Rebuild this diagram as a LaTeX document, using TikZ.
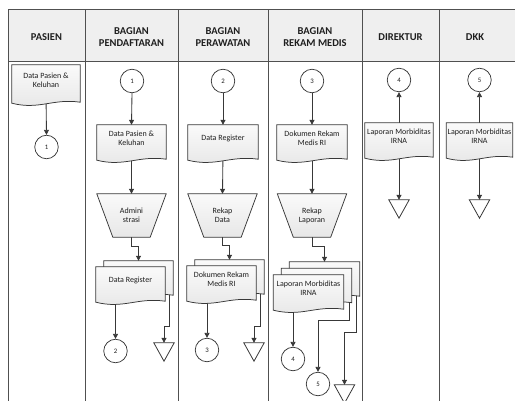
\documentclass[tikz,border=0pt]{standalone}
\usepackage{fontspec}
\setmainfont{Carlito}
\usetikzlibrary{calc,arrows.meta,shapes.geometric}
\pgfdeclarelayer{bg}
\pgfdeclarelayer{mid}
\pgfsetlayers{bg,mid,main}
\definecolor{linecol}{HTML}{383838}
\definecolor{gridcol}{HTML}{505050}
\definecolor{hdrfill}{HTML}{EFEFEF}
\definecolor{txtcol}{HTML}{1E1E1E}
\newcommand\hdrfont{\fontsize{10.5}{12}\selectfont\bfseries}
\newcommand\bodyfont{\fontsize{8}{9.2}\selectfont}
\newcommand\numfont{\fontsize{6.8}{7}\selectfont}
% document outline drawn around a text node; #2,#3 = shift (right, up)
\newcommand\docout[3]{%
  \path[shp] let \p1=(#1.north west), \p2=(#1.south east), \n1={\x2-\x1} in
    (\x1+#2,\y2-8pt+#3) -- (\x1+#2,\y1+#3) -- (\x2+#2,\y1+#3) -- (\x2+#2,\y2-7pt+#3)
    .. controls (\x2-0.4*\n1+#2,\y2-3pt+#3) and (\x1+0.4*\n1+#2,\y2-15pt+#3) .. (\x1+#2,\y2-8pt+#3) -- cycle;}
\newcommand\trapout[1]{%
  \path[shp] (#1.north west) -- (#1.north east) -- ($(#1.south east)+(-16,0)$) -- ($(#1.south west)+(16,0)$) -- cycle;}
\newcommand\triout[1]{%
  \path[trish] (#1.north west) -- (#1.north east) -- (#1.south) -- cycle;}
\tikzset{
  lane/.style={draw=gridcol, line width=0.9pt},
  hdr/.style={font=\hdrfont, align=center, text=txtcol},
  docn/.style={minimum width=#1, minimum height=27, inner sep=0pt, align=center, font=\bodyfont, text=txtcol},
  trapn/.style={minimum width=69, minimum height=43, inner sep=0pt, align=center, font=\bodyfont, text=txtcol},
  conn/.style={circle, draw=linecol, line width=0.75pt, fill=white, minimum size=23.5, inner sep=0pt, font=\numfont, text=txtcol},
  trin/.style={minimum width=20, minimum height=18, inner sep=0pt},
  shp/.style={draw=linecol, line width=0.75pt, top color=gray!4, bottom color=gray!19},
  trish/.style={draw=linecol, line width=0.8pt, fill=white},
  flow/.style={draw=linecol, line width=0.85pt, -{Triangle[length=5pt,width=5pt]}},
}
\begin{document}
\begin{tikzpicture}[x=1pt,y=-1pt]
\useasboundingbox (0,0) rectangle (515,400);

% ---------- header texts ----------
\node[hdr] (h1) at (46.5,37) {PASIEN};
\node[hdr] (h2) at (131.5,37) {BAGIAN\\PENDAFTARAN};
\node[hdr] (h3) at (223,37) {BAGIAN\\PERAWATAN};
\node[hdr] (h4) at (315,37) {BAGIAN\\REKAM MEDIS};
\node[hdr] (h5) at (400.5,37) {DIREKTUR};
\node[hdr] (h6) at (475,37) {DKK};

% ---------- PASIEN ----------
\node[docn=68, minimum height=30] (P1) at (46,80) {Data Pasien \&\\Keluhan};
\node[conn] (c1a) at (46.5,147) {1};

% ---------- PENDAFTARAN ----------
\node[conn] (c1b) at (132,81) {1};
\node[docn=69] (D1) at (131.5,138.5) {Data Pasien \&\\Keluhan};
\node[trapn] (T1) at (131.5,215.5) {Admini\\strasi};
\node[docn=69] (M1) at (130.5,280.5) {Data Register};
\node[conn] (c2a) at (115.5,351) {2};
\node[trin] (tri2a) at (164,352) {};

% ---------- PERAWATAN ----------
\node[conn] (c2b) at (223,81) {2};
\node[docn=70] (D2) at (223,138.5) {Data Register};
\node[trapn] (T2) at (222.5,215.5) {Rekap\\Data};
\node[docn=69] (M2) at (221.5,279.5) {Dokumen Rekam\\Medis RI};
\node[conn] (c3a) at (207,350) {3};
\node[trin] (tri2b) at (254,352) {};

% ---------- REKAM MEDIS ----------
\node[conn] (c3b) at (312,81) {3};
\node[docn=70] (D3) at (312,138.5) {Dokumen Rekam\\Medis RI};
\node[trapn] (T3) at (312,215.5) {Rekap\\Laporan};
\node[docn=70] (M3) at (308.5,288.5) {Laporan Morbiditas\\IRNA};
\node[conn] (c4a) at (293,359) {4};
\node[conn] (c5a) at (318,384) {5};
\node[trin] (tri3) at (344.5,394) {};

% ---------- DIREKTUR ----------
\node[conn] (c4b) at (399,80) {4};
\node[docn=68] (D4) at (399,136.5) {Laporan Morbiditas\\IRNA};
\node[trin] (tri4) at (399,209) {};

% ---------- DKK ----------
\node[conn] (c5b) at (479.5,80) {5};
\node[docn=66] (D5) at (479.5,136.5) {Laporan Morbiditas\\IRNA};
\node[trin] (tri5) at (479.5,209) {};

% helper coordinates on the back pages
\coordinate (M1t) at ($(M1.north)+(8,-6)$);
\coordinate (M1r) at ($(M1.south east)+(4,-5)$);
\coordinate (M2t) at ($(M2.north)+(8,-6)$);
\coordinate (M2r) at ($(M2.south east)+(4,-5)$);
\coordinate (M3t) at ($(M3.north)+(16,-13)$);
\coordinate (M3m) at ($(M3.south east)+(6,-5)$);
\coordinate (M3b) at ($(M3.south east)+(13,-12)$);

% ---------- shapes ----------
\begin{pgfonlayer}{mid}
  \docout{P1}{0pt}{0pt}
  \docout{D1}{0pt}{0pt}
  \docout{D2}{0pt}{0pt}
  \docout{D3}{0pt}{0pt}
  \docout{D4}{0pt}{0pt}
  \docout{D5}{0pt}{0pt}
  \trapout{T1}
  \trapout{T2}
  \trapout{T3}
  \docout{M1}{8pt}{6pt}
  \docout{M1}{0pt}{0pt}
  \docout{M2}{8pt}{6pt}
  \docout{M2}{0pt}{0pt}
  \docout{M3}{16pt}{13pt}
  \docout{M3}{8pt}{6.5pt}
  \docout{M3}{0pt}{0pt}
  \triout{tri2a}
  \triout{tri2b}
  \triout{tri3}
  \triout{tri4}
  \triout{tri5}
\end{pgfonlayer}

% ---------- lanes and connectors ----------
\begin{pgfonlayer}{bg}
  \fill[hdrfill] (8,9) rectangle (520,61);
  \draw[lane] (520,9) -- (8,9) -- (8,401);
  \draw[lane] (8,61) -- (520,61);
  \foreach \xx in {85,178,268,362,439} \draw[lane] (\xx,9) -- (\xx,401);

  \draw[flow] (P1.south) -- (c1a.north);

  \draw[flow] (c1b.south) -- (D1.north);
  \draw[flow] (D1.south) -- (T1.north);
  \draw[flow] (T1.south) |- ($(M1t)+(0,-14)$) -- (M1t);
  \draw[flow] (M1.south -| c2a) -- (c2a.north);
  \draw[flow] (M1r) |- ($(tri2a.north)+(0,-16)$) -- (tri2a.north);

  \draw[flow] (c2b.south) -- (D2.north);
  \draw[flow] (D2.south) -- (T2.north);
  \draw[flow] (T2.south) |- ($(M2t)+(0,-14)$) -- (M2t);
  \draw[flow] (M2.south -| c3a) -- (c3a.north);
  \draw[flow] (M2r) |- ($(tri2b.north)+(0,-16)$) -- (tri2b.north);

  \draw[flow] (c3b.south) -- (D3.north);
  \draw[flow] (D3.south) -- (T3.north);
  \draw[flow] (T3.south) |- ($(M3t)+(0,-15)$) -- (M3t);
  \draw[flow] (M3.south -| c4a) -- (c4a.north);
  \draw[flow] (M3m) |- ($(c5a.north)+(0,-51)$) -- (c5a.north);
  \draw[flow] (M3b) |- ($(tri3.north)+(0,-52)$) -- (tri3.north);

  \draw[flow] (D4.north) -- (c4b.south);
  \draw[flow] (D4.south) -- (tri4.north);

  \draw[flow] (D5.north) -- (c5b.south);
  \draw[flow] (D5.south) -- (tri5.north);
\end{pgfonlayer}
\end{tikzpicture}
\end{document}
